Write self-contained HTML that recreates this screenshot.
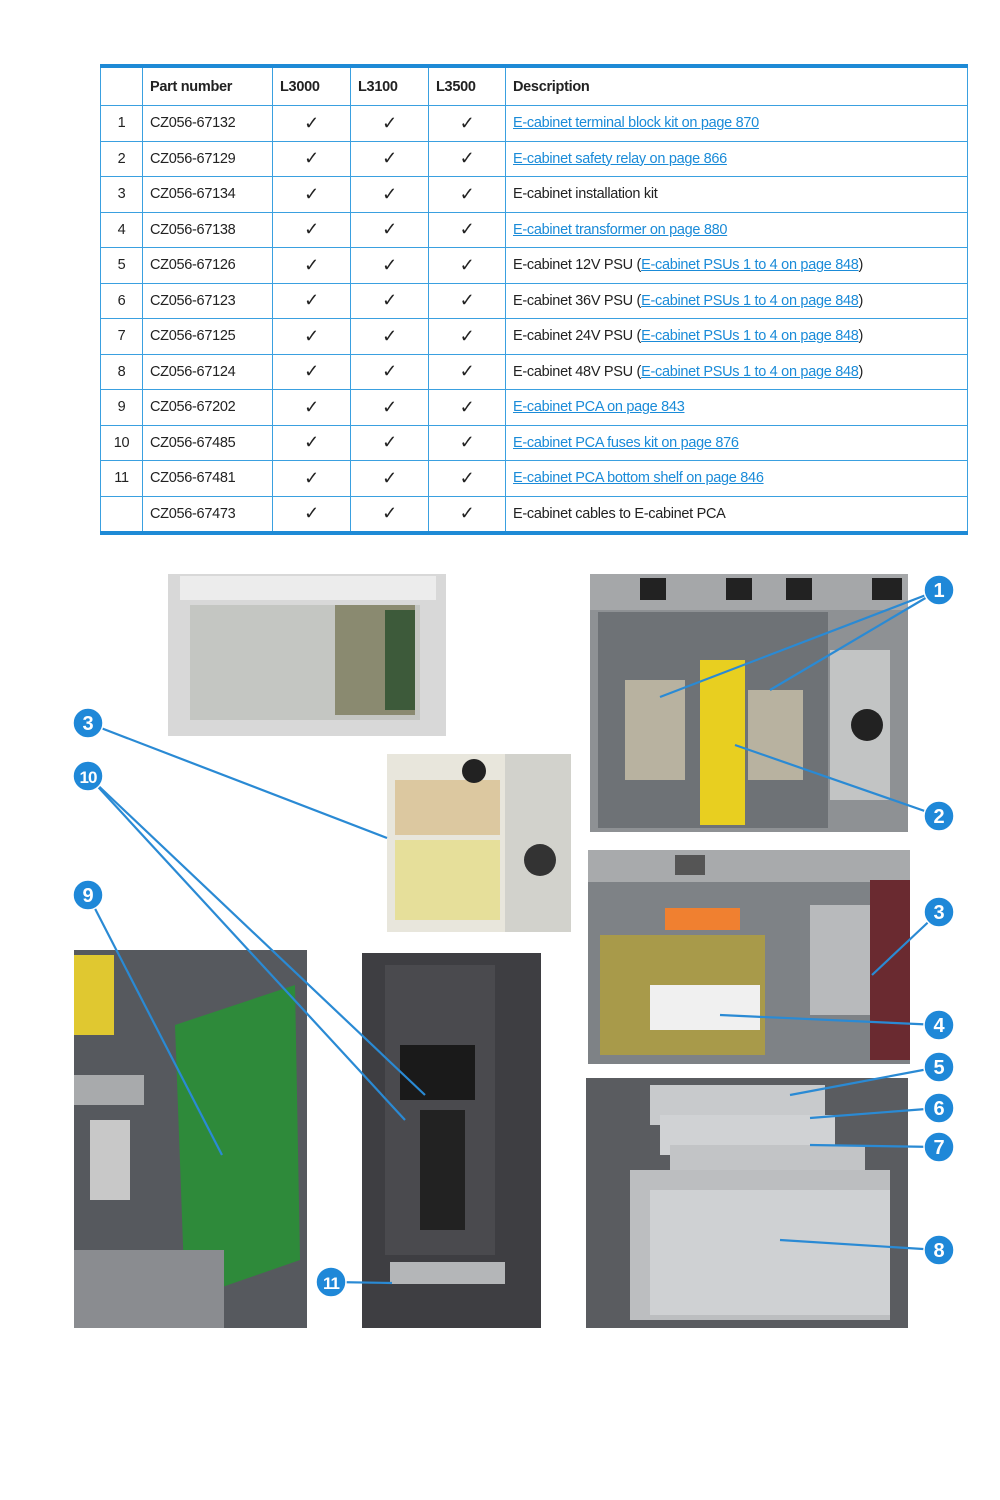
<!DOCTYPE html>
<html><head><meta charset="utf-8"><style>
body{margin:0;background:#fff;width:1000px;height:1500px;position:relative;overflow:hidden;font-family:"Liberation Sans",sans-serif}
table{position:absolute;left:100px;top:64px;width:868px;border-collapse:collapse;border-top:4px solid #1e8ad6;border-bottom:4px solid #1e8ad6;font-size:14.5px;letter-spacing:-0.3px;color:#222}
td{border:1.5px solid #3aa0e0;height:34.5px;padding:0 7px;white-space:nowrap}
tr:first-child td{height:37px;font-weight:bold}
td.c{text-align:center;font-size:18px}
td.n{text-align:center;width:27px}
a{color:#1a8bd8;text-decoration:underline}
</style></head><body>
<table>
<tr><td class="n"></td><td style="width:115px">Part number</td><td style="width:63px">L3000</td><td style="width:63px">L3100</td><td style="width:62px">L3500</td><td>Description</td></tr>
<tr><td class="n">1</td><td>CZ056-67132</td><td class="c">✓</td><td class="c">✓</td><td class="c">✓</td><td><a>E-cabinet terminal block kit on page 870</a></td></tr>
<tr><td class="n">2</td><td>CZ056-67129</td><td class="c">✓</td><td class="c">✓</td><td class="c">✓</td><td><a>E-cabinet safety relay on page 866</a></td></tr>
<tr><td class="n">3</td><td>CZ056-67134</td><td class="c">✓</td><td class="c">✓</td><td class="c">✓</td><td>E-cabinet installation kit</td></tr>
<tr><td class="n">4</td><td>CZ056-67138</td><td class="c">✓</td><td class="c">✓</td><td class="c">✓</td><td><a>E-cabinet transformer on page 880</a></td></tr>
<tr><td class="n">5</td><td>CZ056-67126</td><td class="c">✓</td><td class="c">✓</td><td class="c">✓</td><td>E-cabinet 12V PSU (<a>E-cabinet PSUs 1 to 4 on page 848</a>)</td></tr>
<tr><td class="n">6</td><td>CZ056-67123</td><td class="c">✓</td><td class="c">✓</td><td class="c">✓</td><td>E-cabinet 36V PSU (<a>E-cabinet PSUs 1 to 4 on page 848</a>)</td></tr>
<tr><td class="n">7</td><td>CZ056-67125</td><td class="c">✓</td><td class="c">✓</td><td class="c">✓</td><td>E-cabinet 24V PSU (<a>E-cabinet PSUs 1 to 4 on page 848</a>)</td></tr>
<tr><td class="n">8</td><td>CZ056-67124</td><td class="c">✓</td><td class="c">✓</td><td class="c">✓</td><td>E-cabinet 48V PSU (<a>E-cabinet PSUs 1 to 4 on page 848</a>)</td></tr>
<tr><td class="n">9</td><td>CZ056-67202</td><td class="c">✓</td><td class="c">✓</td><td class="c">✓</td><td><a>E-cabinet PCA on page 843</a></td></tr>
<tr><td class="n">10</td><td>CZ056-67485</td><td class="c">✓</td><td class="c">✓</td><td class="c">✓</td><td><a>E-cabinet PCA fuses kit on page 876</a></td></tr>
<tr><td class="n">11</td><td>CZ056-67481</td><td class="c">✓</td><td class="c">✓</td><td class="c">✓</td><td><a>E-cabinet PCA bottom shelf on page 846</a></td></tr>
<tr><td class="n"></td><td>CZ056-67473</td><td class="c">✓</td><td class="c">✓</td><td class="c">✓</td><td>E-cabinet cables to E-cabinet PCA</td></tr>
</table>
<svg style="position:absolute;left:0;top:0" width="1000" height="1500">
<rect x="168" y="574" width="278" height="162" fill="#d8d8d8"/>
<rect x="180" y="576" width="256" height="24" fill="#ececec"/>
<rect x="190" y="605" width="230" height="115" fill="#c4c6c2"/>
<rect x="335" y="605" width="80" height="110" fill="#8a8a70"/>
<rect x="385" y="610" width="30" height="100" fill="#3d5a3a"/>
<rect x="387" y="754" width="184" height="178" fill="#e8e6dc"/>
<rect x="505" y="754" width="66" height="178" fill="#d2d2cc"/>
<rect x="395" y="840" width="105" height="80" fill="#e6df9a"/>
<rect x="395" y="780" width="105" height="55" fill="#dcc8a0"/>
<circle cx="474" cy="771" r="12" fill="#222"/>
<circle cx="540" cy="860" r="16" fill="#333"/>
<rect x="590" y="574" width="318" height="258" fill="#8e9194"/>
<rect x="590" y="574" width="318" height="36" fill="#a5a7a9"/>
<rect x="640" y="578" width="26" height="22" fill="#222"/><rect x="726" y="578" width="26" height="22" fill="#222"/><rect x="786" y="578" width="26" height="22" fill="#222"/><rect x="872" y="578" width="30" height="22" fill="#222"/>
<rect x="598" y="612" width="230" height="216" fill="#6e7276"/>
<rect x="625" y="680" width="60" height="100" fill="#b8b2a0"/>
<rect x="700" y="660" width="45" height="165" fill="#e8cf20"/>
<rect x="748" y="690" width="55" height="90" fill="#b8b2a0"/>
<rect x="830" y="650" width="60" height="150" fill="#c2c4c4"/>
<circle cx="867" cy="725" r="16" fill="#222"/>
<rect x="588" y="850" width="322" height="214" fill="#7e8286"/>
<rect x="588" y="850" width="322" height="32" fill="#a8aaac"/>
<rect x="675" y="855" width="30" height="20" fill="#555"/>
<rect x="600" y="935" width="165" height="120" fill="#a89a4a"/>
<rect x="650" y="985" width="110" height="45" fill="#f0f0f0"/>
<rect x="665" y="908" width="75" height="22" fill="#f08030"/>
<rect x="810" y="905" width="60" height="110" fill="#b8babc"/>
<rect x="870" y="880" width="40" height="180" fill="#6a2a30"/>
<rect x="586" y="1078" width="322" height="250" fill="#5a5c60"/>
<rect x="650" y="1085" width="175" height="40" fill="#c8cacc"/>
<rect x="660" y="1115" width="175" height="40" fill="#d0d2d4"/>
<rect x="670" y="1145" width="195" height="40" fill="#c2c4c6"/>
<rect x="630" y="1170" width="260" height="150" fill="#bcbec0"/>
<rect x="650" y="1190" width="240" height="125" fill="#cfd1d3"/>
<rect x="74" y="950" width="233" height="378" fill="#56595e"/>
<rect x="74" y="955" width="40" height="80" fill="#e0c830"/>
<rect x="74" y="1075" width="70" height="30" fill="#a8aaac"/>
<polygon points="175,1025 295,985 300,1260 185,1300" fill="#2e8a3a"/>
<rect x="90" y="1120" width="40" height="80" fill="#c8c8c8"/>
<rect x="74" y="1250" width="150" height="78" fill="#8a8c90"/>
<rect x="362" y="953" width="179" height="375" fill="#3e3e42"/>
<rect x="385" y="965" width="110" height="290" fill="#4a4a4e"/>
<rect x="400" y="1045" width="75" height="55" fill="#1a1a1a"/>
<rect x="420" y="1110" width="45" height="120" fill="#222"/>
<rect x="390" y="1262" width="115" height="22" fill="#b4b6b8"/>
<g stroke="#2a8ad4" stroke-width="2.2" fill="none">
<line x1="939" y1="590" x2="660" y2="697"/><line x1="939" y1="590" x2="770" y2="690"/>
<line x1="939" y1="816" x2="735" y2="745"/>
<line x1="939" y1="912" x2="872" y2="975"/>
<line x1="939" y1="1025" x2="720" y2="1015"/>
<line x1="939" y1="1067" x2="790" y2="1095"/>
<line x1="939" y1="1108" x2="810" y2="1118"/>
<line x1="939" y1="1147" x2="810" y2="1145"/>
<line x1="939" y1="1250" x2="780" y2="1240"/>
<line x1="88" y1="723" x2="387" y2="838"/>
<line x1="88" y1="776" x2="425" y2="1095"/><line x1="88" y1="776" x2="405" y2="1120"/>
<line x1="88" y1="895" x2="222" y2="1155"/>
<line x1="331" y1="1282" x2="392" y2="1283"/>
</g>
<g fill="#1f88d8" stroke="#fff" stroke-width="1.5">
<circle cx="939" cy="590" r="15"/><circle cx="939" cy="816" r="15"/><circle cx="939" cy="912" r="15"/><circle cx="939" cy="1025" r="15"/><circle cx="939" cy="1067" r="15"/><circle cx="939" cy="1108" r="15"/><circle cx="939" cy="1147" r="15"/><circle cx="939" cy="1250" r="15"/><circle cx="88" cy="723" r="15"/><circle cx="88" cy="776" r="15"/><circle cx="88" cy="895" r="15"/><circle cx="331" cy="1282" r="15"/>
</g>
<g fill="#fff" font-family="Liberation Sans" font-weight="bold" font-size="20" text-anchor="middle">
<text x="939" y="597">1</text><text x="939" y="823">2</text><text x="939" y="919">3</text><text x="939" y="1032">4</text><text x="939" y="1074">5</text><text x="939" y="1115">6</text><text x="939" y="1154">7</text><text x="939" y="1257">8</text><text x="88" y="730">3</text><text x="88" y="783" font-size="17" letter-spacing="-1">10</text><text x="88" y="902">9</text><text x="331" y="1289" font-size="17" letter-spacing="-1">11</text>
</g>
</svg>
</body></html>
